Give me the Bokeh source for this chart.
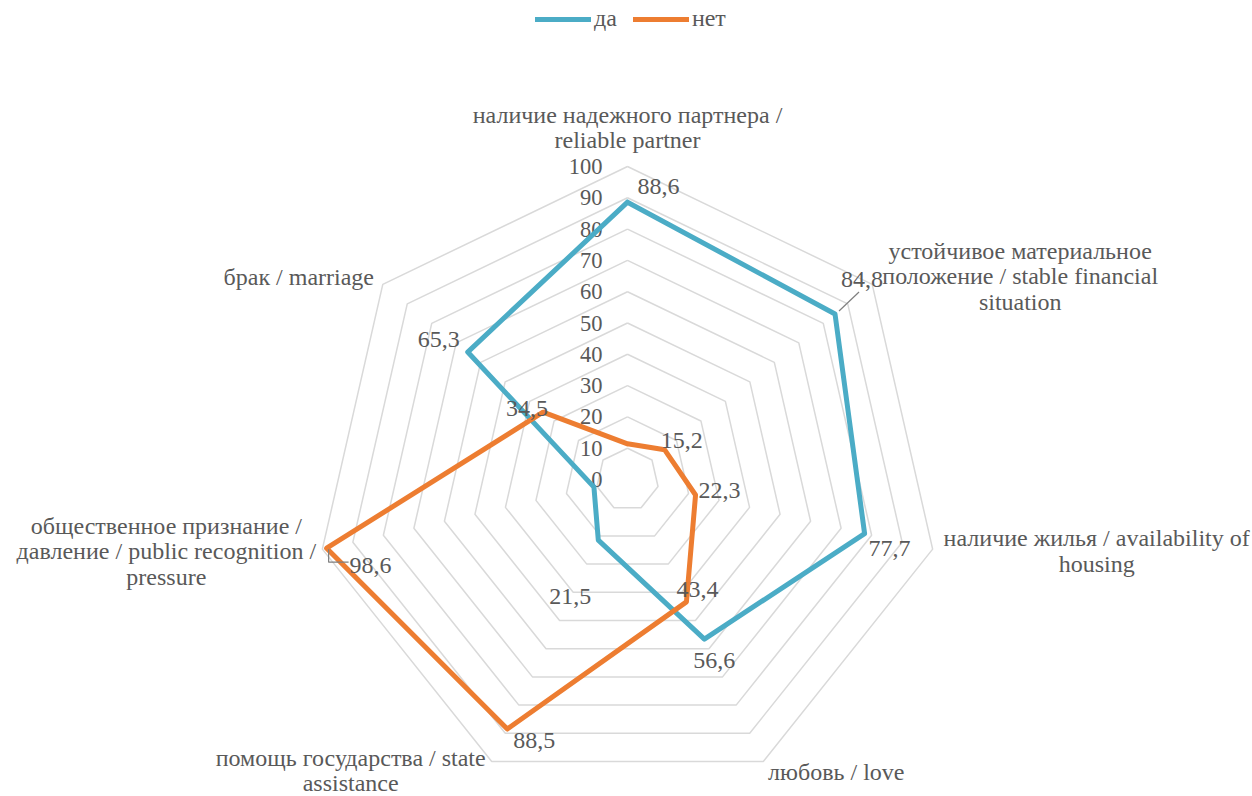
import numpy as np
from bokeh.plotting import figure
from bokeh.models import Range1d, Legend, LegendItem
from bokeh.core.properties import value
from bokeh.embed import file_html
from bokeh.resources import INLINE

# ---------------- data ----------------
categories = [
    "наличие надежного партнера /\nreliable partner",
    "устойчивое материальное\nположение / stable financial\nsituation",
    "наличие жилья / availability of\nhousing",
    "любовь / love",
    "помощь государства / state\nassistance",
    "общественное признание /\nдавление / public recognition /\npressure",
    "брак / marriage",
]
series_names = ["да", "нет"]
da = [88.6, 84.8, 77.7, 56.6, 21.5, 11.0, 65.3]
net = [11.4, 15.2, 22.3, 43.4, 88.5, 98.6, 34.5]
da_shown = [True, True, True, True, True, False, True]
net_shown = [False, True, True, True, True, True, True]
ticks = [0, 10, 20, 30, 40, 50, 60, 70, 80, 90, 100]

# ---------------- styles / layout ----------------
W, H = 1252, 796
PX = 3.13                 # pixels per value unit
CX, CY = 627, 479         # centre in figure pixels
FONT = "Liberation Serif"
TXT = "#595959"
GRID = "#D9D9D9"
COLORS = ["#4BACC6", "#ED7D31"]
FS = "24px"
FS_TICK = "22.5px"

# label offsets in screen px (dx, dy-down)
da_off = [(31, -16), (27, -35), (25, 15), (10, 21), (-28, 56), (0, 0), (-29, -13)]
net_off = [(0, 0), (17, -9), (24, -5), (11, -12), (27, 11), (44, 17), (-16, -4)]
cat_off = [(0, -39), (148, -8), (164, 2), (73, 10), (-141, 9), (-156, 2), (-84, -7)]

n = len(categories)
theta = np.arange(n) * 2 * np.pi / n


def pol(r, k):
    return r * np.sin(theta[k]), r * np.cos(theta[k])


p = figure(width=W, height=H, output_backend="svg", toolbar_location=None,
           x_axis_type=None, y_axis_type=None, min_border=0,
           x_range=Range1d(-CX / PX, (W - CX) / PX),
           y_range=Range1d(-(H - CY) / PX, CY / PX))
p.grid.visible = False
p.outline_line_color = None
p.background_fill_color = "white"

# grid rings
for t in ticks[1:]:
    xs = [pol(t, k)[0] for k in list(range(n)) + [0]]
    ys = [pol(t, k)[1] for k in list(range(n)) + [0]]
    p.line(xs, ys, line_color=GRID, line_width=1.5)

# tick labels
p.text(x=[0] * len(ticks), y=ticks, text=[str(t) for t in ticks],
       text_font=value(FONT), text_font_size=FS_TICK, text_color=TXT,
       text_align="right", text_baseline="middle", x_offset=-25)

# series
renderers = []
for vals, col in zip([da, net], COLORS):
    xs = [pol(v, k)[0] for k, v in enumerate(vals)]
    ys = [pol(v, k)[1] for k, v in enumerate(vals)]
    r = p.line(xs + xs[:1], ys + ys[:1], line_color=col, line_width=5,
               line_join="round", line_cap="round")
    renderers.append(r)

# leader lines
k = 1
x0, y0 = pol(da[k], k)
p.line([x0 + 4 / PX, x0 + 24 / PX], [y0 + 3 / PX, y0 + 22 / PX], line_color="#7F7F7F", line_width=1.2)
k = 5
x0, y0 = pol(net[k], k)
p.line([x0 + 2 / PX, x0 + 2 / PX, x0 + 22 / PX], [y0 - 1 / PX, y0 - 14 / PX, y0 - 14 / PX],
       line_color="#7F7F7F", line_width=1.2)

# data labels
for vals, shown, offs in [(da, da_shown, da_off), (net, net_shown, net_off)]:
    for k, v in enumerate(vals):
        if not shown[k]:
            continue
        x0, y0 = pol(v, k)
        p.text(x=[x0], y=[y0], text=[f"{v:.1f}".replace(".", ",")],
               text_font=value(FONT), text_font_size=FS, text_color=TXT,
               text_align="center", text_baseline="middle",
               x_offset=offs[k][0], y_offset=offs[k][1])

# category labels
for k, c in enumerate(categories):
    x0, y0 = pol(100, k)
    p.text(x=[x0], y=[y0], text=[c], text_font=value(FONT), text_font_size=FS,
           text_color=TXT, text_align="center", text_baseline="middle",
           text_line_height=0.98,
           x_offset=cat_off[k][0], y_offset=cat_off[k][1])

legend = Legend(items=[LegendItem(label=s, renderers=[r]) for s, r in zip(series_names, renderers)],
                orientation="horizontal", location=(535, H - 32), padding=0, margin=0,
                spacing=16, glyph_width=56, glyph_height=22, label_height=22,
                label_standoff=3, border_line_alpha=0, background_fill_alpha=0,
                label_text_font=FONT, label_text_font_size=FS, label_text_color=TXT)
p.add_layout(legend, "center")

open("out.html", "w").write(file_html(p, INLINE))
